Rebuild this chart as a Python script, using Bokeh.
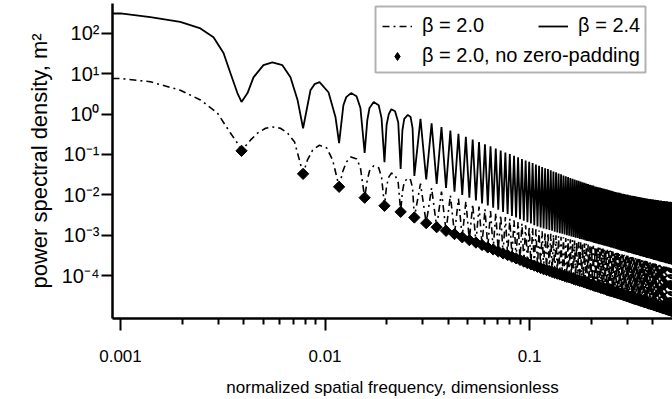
import math
from bokeh.plotting import figure
from bokeh.models import FixedTicker, Legend, LegendItem, BoxAnnotation, Range1d
from bokeh.embed import file_html
from bokeh.resources import INLINE

# ---------------- data (PSD values stored as log10 of m^2) ----------------
N_FFT = 256                      # DFT length -> bin k sits at k / N_FFT
bin_k = list(range(1, 129))      # bins up to the Nyquist frequency 0.5
PEAK_K0 = 7                      # first lobe given only by its peak value

# beta = 2.4 (solid): main lobe before the first bin
solid_main_f = [0.000914, 0.001, 0.0014, 0.00196, 0.00246, 0.00285, 0.00319, 0.00345, 0.00373]
solid_main_v = [2.49, 2.49, 2.40, 2.28, 2.12, 1.90, 1.51, 1.01, 0.52]
# interior points of side lobes 1..6
solid_lobe_f = [
    [0.00418, 0.00447, 0.00500, 0.00553, 0.00619, 0.00678, 0.00734],
    [0.00849, 0.00889, 0.00940, 0.0104, 0.01125],
    [0.0123, 0.0127, 0.0134, 0.01426, 0.0149],
    [0.0161, 0.0165, 0.0173, 0.0183, 0.0189],
    [0.0200, 0.0205, 0.0211, 0.0220, 0.0228],
    [0.0239, 0.0244, 0.0254, 0.0262, 0.0268],
]
solid_lobe_v = [
    [0.52, 0.91, 1.21, 1.28, 1.21, 0.91, 0.35],
    [0.59, 0.74, 0.79, 0.54, -0.07],
    [0.22, 0.42, 0.52, 0.44, 0.15],
    [-0.15, 0.15, 0.30, 0.22, -0.10],
    [-0.27, 0.00, 0.12, 0.07, -0.20],
    [-0.40, -0.12, -0.02, -0.07, -0.35],
]
# minima at bins 1..128
solid_min = [
    0.30, -0.35, -0.72, -0.96, -1.19, -1.36, -1.53, -1.62, -1.73, -1.83,
    -1.92, -2.00, -2.07, -2.14, -2.21, -2.26, -2.32, -2.37, -2.42, -2.47,
    -2.52, -2.56, -2.60, -2.64, -2.68, -2.71, -2.75, -2.78, -2.81, -2.83,
    -2.85, -2.87, -2.89, -2.91, -2.93, -2.95, -2.96, -2.98, -3.00, -3.01,
    -3.03, -3.04, -3.06, -3.07, -3.09, -3.10, -3.11, -3.13, -3.14, -3.15,
    -3.16, -3.17, -3.19, -3.20, -3.21, -3.22, -3.23, -3.24, -3.25, -3.26,
    -3.27, -3.28, -3.29, -3.30, -3.31, -3.32, -3.33, -3.34, -3.35, -3.36,
    -3.37, -3.38, -3.39, -3.39, -3.40, -3.41, -3.42, -3.43, -3.43, -3.44,
    -3.45, -3.46, -3.47, -3.47, -3.48, -3.49, -3.49, -3.50, -3.51, -3.52,
    -3.52, -3.53, -3.54, -3.54, -3.55, -3.56, -3.56, -3.57, -3.57, -3.58,
    -3.59, -3.59, -3.60, -3.61, -3.61, -3.62, -3.62, -3.63, -3.63, -3.64,
    -3.65, -3.65, -3.66, -3.66, -3.67, -3.67, -3.68, -3.68, -3.69, -3.69,
    -3.70, -3.70, -3.71, -3.71, -3.72, -3.72, -3.73, -3.73,
]
# lobe peaks between bins k and k+1, k = 7..127
solid_peak = [
    -0.12, -0.23, -0.32, -0.41, -0.49, -0.56, -0.63, -0.69, -0.75, -0.80,
    -0.85, -0.90, -0.95, -0.99, -1.03, -1.07, -1.11, -1.15, -1.18, -1.21,
    -1.25, -1.28, -1.31, -1.34, -1.36, -1.39, -1.42, -1.44, -1.47, -1.49,
    -1.52, -1.54, -1.56, -1.58, -1.60, -1.62, -1.64, -1.65, -1.67, -1.69,
    -1.70, -1.72, -1.73, -1.75, -1.76, -1.77, -1.79, -1.80, -1.81, -1.82,
    -1.83, -1.84, -1.85, -1.86, -1.87, -1.88, -1.89, -1.90, -1.91, -1.92,
    -1.93, -1.94, -1.94, -1.95, -1.96, -1.97, -1.97, -1.98, -1.99, -1.99,
    -2.00, -2.01, -2.01, -2.02, -2.02, -2.03, -2.03, -2.04, -2.04, -2.05,
    -2.05, -2.06, -2.06, -2.07, -2.07, -2.08, -2.08, -2.09, -2.09, -2.09,
    -2.10, -2.10, -2.10, -2.11, -2.11, -2.11, -2.12, -2.12, -2.12, -2.13,
    -2.13, -2.13, -2.14, -2.14, -2.14, -2.14, -2.15, -2.15, -2.15, -2.15,
    -2.16, -2.16, -2.16, -2.16, -2.17, -2.17, -2.17, -2.17, -2.17, -2.18,
    -2.18,
]

# beta = 2.0 (dash-dot)
dd_main_f = [0.000914, 0.001, 0.0014, 0.00196, 0.00246, 0.00298, 0.00345, 0.00373]
dd_main_v = [0.88, 0.88, 0.80, 0.59, 0.35, 0.025, -0.47, -0.72]
dd_lobe_f = [
    [0.00433, 0.00468, 0.00512, 0.00553, 0.00605, 0.00656, 0.0071],
    [0.0082, 0.0087, 0.0094, 0.0102, 0.0109],
    [0.0122, 0.0127, 0.0134, 0.0143, 0.0149],
    [0.0161, 0.0165, 0.0173, 0.0183, 0.0189],
    [0.0200, 0.0205, 0.0211, 0.0220, 0.0228],
    [0.0239, 0.0244, 0.0254, 0.0262, 0.0268],
]
dd_lobe_v = [
    [-0.64, -0.47, -0.35, -0.32, -0.35, -0.47, -0.69],
    [-1.14, -0.89, -0.77, -0.84, -1.14],
    [-1.43, -1.19, -1.06, -1.11, -1.33],
    [-1.63, -1.41, -1.28, -1.33, -1.56],
    [-1.78, -1.56, -1.46, -1.51, -1.70],
    [-1.93, -1.68, -1.58, -1.63, -1.83],
]
# minima at bins 1..128 (= the values without zero-padding, diamonds)
dd_min = [
    -0.91, -1.48, -1.80, -2.07, -2.27, -2.42, -2.56, -2.70, -2.80, -2.89,
    -2.97, -3.05, -3.12, -3.18, -3.24, -3.30, -3.35, -3.40, -3.45, -3.49,
    -3.53, -3.57, -3.61, -3.65, -3.69, -3.72, -3.75, -3.78, -3.81, -3.84,
    -3.86, -3.88, -3.91, -3.93, -3.95, -3.97, -3.99, -4.01, -4.03, -4.04,
    -4.06, -4.08, -4.10, -4.11, -4.13, -4.14, -4.16, -4.17, -4.19, -4.20,
    -4.22, -4.23, -4.25, -4.26, -4.27, -4.28, -4.30, -4.31, -4.32, -4.33,
    -4.35, -4.36, -4.37, -4.38, -4.39, -4.40, -4.41, -4.42, -4.43, -4.44,
    -4.45, -4.46, -4.47, -4.48, -4.49, -4.50, -4.51, -4.52, -4.53, -4.54,
    -4.55, -4.56, -4.57, -4.58, -4.58, -4.59, -4.60, -4.61, -4.62, -4.62,
    -4.63, -4.64, -4.65, -4.66, -4.66, -4.67, -4.68, -4.69, -4.69, -4.70,
    -4.71, -4.71, -4.72, -4.73, -4.73, -4.74, -4.75, -4.76, -4.76, -4.77,
    -4.77, -4.78, -4.79, -4.79, -4.80, -4.81, -4.81, -4.82, -4.82, -4.83,
    -4.84, -4.84, -4.85, -4.85, -4.86, -4.87, -4.87, -4.88,
]
dd_peak = [
    -1.72, -1.83, -1.92, -2.01, -2.09, -2.16, -2.23, -2.29, -2.35, -2.40,
    -2.45, -2.50, -2.55, -2.59, -2.63, -2.67, -2.71, -2.75, -2.78, -2.81,
    -2.85, -2.88, -2.90, -2.92, -2.94, -2.96, -2.98, -3.00, -3.02, -3.04,
    -3.05, -3.07, -3.09, -3.10, -3.12, -3.13, -3.15, -3.16, -3.17, -3.19,
    -3.20, -3.21, -3.23, -3.24, -3.25, -3.26, -3.28, -3.29, -3.30, -3.31,
    -3.32, -3.33, -3.34, -3.35, -3.36, -3.37, -3.38, -3.39, -3.40, -3.41,
    -3.42, -3.43, -3.44, -3.45, -3.46, -3.47, -3.48, -3.48, -3.49, -3.50,
    -3.51, -3.52, -3.53, -3.53, -3.54, -3.55, -3.56, -3.56, -3.57, -3.58,
    -3.59, -3.59, -3.60, -3.61, -3.61, -3.62, -3.63, -3.63, -3.64, -3.65,
    -3.65, -3.66, -3.67, -3.67, -3.68, -3.69, -3.69, -3.70, -3.70, -3.71,
    -3.72, -3.72, -3.73, -3.73, -3.74, -3.74, -3.75, -3.76, -3.76, -3.77,
    -3.77, -3.78, -3.78, -3.79, -3.79, -3.80, -3.80, -3.81, -3.81, -3.82,
    -3.82,
]

x_ticks = [0.001, 0.01, 0.1]
x_tick_labels = ["0.001", "0.01", "0.1"]
x_minor = [0.002, 0.003, 0.004, 0.005, 0.006, 0.007, 0.008, 0.009,
           0.02, 0.03, 0.04, 0.05, 0.06, 0.07, 0.08, 0.09, 0.2, 0.3, 0.4]
y_ticks = [1e-4, 1e-3, 1e-2, 1e-1, 1e0, 1e1, 1e2]
y_tick_labels = ["10\u207b\u2074", "10\u207b\u00b3", "10\u207b\u00b2", "10\u207b\u00b9",
                 "10\u2070", "10\u00b9", "10\u00b2"]


def assemble(main_f, main_v, lobe_f, lobe_v, mins, peaks):
    xs, ys = list(main_f), list(main_v)
    last = bin_k[-1]
    for i, k in enumerate(bin_k):
        xs.append(k / N_FFT)
        ys.append(mins[i])
        if k == last:
            break
        if i < len(lobe_f):
            xs.extend(lobe_f[i])
            ys.extend(lobe_v[i])
        else:
            xs.append((k + 0.5) / N_FFT)
            ys.append(peaks[k - PEAK_K0])
    return xs, [10 ** v for v in ys]


sx, sy = assemble(solid_main_f, solid_main_v, solid_lobe_f, solid_lobe_v, solid_min, solid_peak)
dx, dy = assemble(dd_main_f, dd_main_v, dd_lobe_f, dd_lobe_v, dd_min, dd_peak)
diam_x = [k / N_FFT for k in bin_k]
diam_y = [10 ** v for v in dd_min]

FONT = "Liberation Sans"

p = figure(width=672, height=399, output_backend="svg", toolbar_location=None,
           x_axis_type="log", y_axis_type="log",
           x_range=Range1d(10 ** -3.039, 0.5),
           y_range=Range1d(10 ** -5.06, 10 ** 2.737),
           min_border_left=112, min_border_right=0, min_border_top=3, min_border_bottom=80)
p.outline_line_color = None
p.xgrid.visible = False
p.ygrid.visible = False
p.background_fill_color = "white"
p.border_fill_color = "white"

r_solid = p.line(sx, sy, line_color="black", line_width=1.8)
r_dd = p.line(dx, dy, line_color="black", line_width=1.6, line_dash="7 4 2 4")
p.scatter(diam_x, diam_y, marker="square", size=8, angle=math.pi / 4,
          fill_color="black", line_color="black")
# legend-only twin of the diamonds (the legend glyph ignores the rotation)
r_diam_leg = p.scatter(diam_x, diam_y, marker="diamond", size=14,
                       fill_color="black", line_color="black", visible=False)

# axes
xa = p.xaxis[0]
xa.ticker = FixedTicker(ticks=x_ticks, minor_ticks=x_minor)
xa.major_label_overrides = dict(zip(x_ticks, x_tick_labels))
xa.axis_label = "normalized spatial frequency, dimensionless"
ya = p.yaxis[0]
ya.ticker = FixedTicker(ticks=y_ticks, minor_ticks=[])
ya.major_label_overrides = dict(zip(y_ticks, y_tick_labels))
ya.axis_label = "power spectral density, m\u00b2"

for ax in (xa, ya):
    ax.axis_line_width = 2.5
    ax.axis_line_color = "black"
    ax.major_tick_line_width = 2
    ax.major_tick_line_color = "black"
    ax.minor_tick_line_width = 2
    ax.minor_tick_line_color = "black"
    ax.major_tick_in = 0
    ax.minor_tick_in = 0
    ax.major_label_text_color = "black"
    ax.major_label_text_font = FONT
    ax.axis_label_text_font = FONT
    ax.axis_label_text_font_style = "normal"
    ax.axis_label_text_color = "black"

xa.major_tick_out = 12
xa.minor_tick_out = 6
xa.major_label_text_font_size = "17px"
xa.major_label_standoff = 19
xa.axis_label_text_font_size = "17px"
xa.axis_label_standoff = 13

ya.major_tick_out = 11
ya.minor_tick_out = 0
ya.major_label_text_font_size = "20px"
ya.major_label_standoff = 2
ya.axis_label_text_font_size = "22px"
ya.axis_label_standoff = 7

# legend
common = dict(padding=0, margin=0, border_line_color=None, background_fill_alpha=0,
              inactive_fill_alpha=0,
              glyph_width=30, glyph_height=20, label_standoff=10, label_height=22,
              label_text_font=FONT, label_text_font_size="20px", label_text_color="black")
leg_a = Legend(items=[LegendItem(label="\u03b2 = 2.0", renderers=[r_dd]),
                      LegendItem(label="\u03b2 = 2.4", renderers=[r_solid])],
               orientation="horizontal", spacing=54, location=(270, 281), **common)
leg_b = Legend(items=[LegendItem(label="\u03b2 = 2.0, no zero-padding", renderers=[r_diam_leg])],
               orientation="horizontal", location=(270, 251), **common)
p.add_layout(leg_a)
p.add_layout(leg_b)
box = BoxAnnotation(left=263, right=533, bottom=246, top=312,
                    left_units="screen", right_units="screen",
                    bottom_units="screen", top_units="screen",
                    fill_color=None, fill_alpha=0, line_color="black", line_width=2)
p.add_layout(box)

open("out.html", "w").write(file_html(p, INLINE))
